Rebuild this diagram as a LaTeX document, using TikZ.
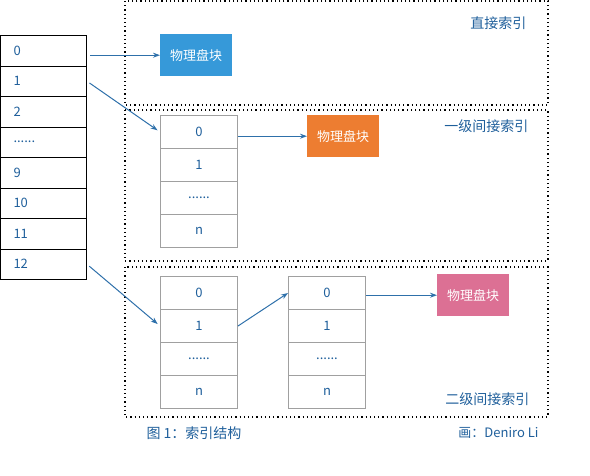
\documentclass[tikz,border=0pt]{standalone}
\usepackage{fontspec}
\setmainfont{Noto Sans CJK SC}
\usetikzlibrary{arrows.meta,positioning}
\definecolor{idxblue}{RGB}{31,95,155}
\definecolor{lnblue}{RGB}{46,112,170}
\definecolor{blkblue}{RGB}{54,153,217}
\definecolor{blkorange}{RGB}{237,125,49}
\definecolor{blkpink}{RGB}{220,112,148}
\definecolor{cellgray}{RGB}{160,160,160}
\newcommand{\fsz}[1]{\fontsize{#1}{#1}\selectfont}
\newcommand{\sixdots}{......}

\begin{document}
\begin{tikzpicture}[x=1pt, y=-1pt, >={Stealth[length=7pt,width=5pt]},
  lcell/.style={draw, line width=1pt, minimum height=30.5pt, text width=60pt, inner xsep=13pt,
    inner ysep=0pt, align=left, anchor=north west, text=idxblue, font=\fsz{13}},
  gcell/.style={draw=cellgray, line width=1pt, minimum width=77pt, minimum height=33pt,
    inner sep=0pt, anchor=north west, text=idxblue, font=\fsz{13}},
  blk/.style={minimum width=72pt, minimum height=42pt, inner sep=0pt, anchor=north west,
    text=white, font=\fsz{13}},
  frame/.style={dash pattern=on 1.2pt off 3pt, line width=1.2pt},
  link/.style={->, draw=lnblue, line width=1pt},
  tag/.style={anchor=east, text=idxblue, font=\fsz{14}}]
  \useasboundingbox (0,0) rectangle (590,475);
  % index table (inode)
  \foreach \t [count=\i] in {0,1,2,\sixdots,9,10,11,12}
    \node[lcell] (l\i) at (0,{35+(\i-1)*30.5}) {\t};
  % frames
  \draw[frame] (125,1) rectangle (548,105);
  \draw[frame] (125,110) rectangle (548,261);
  \draw[frame] (125,267) rectangle (548,417);
  % direct index
  \node[blk, fill=blkblue] (blkA) at (160,34) {物理盘块};
  \node[tag] (lbA) at (530,23) {直接索引};
  \draw[link, shorten <=3pt] (blkA.west -| l1.east) -- (blkA.west);
  % single indirect
  \foreach \t [count=\i] in {0,1,\sixdots,n}
    \node[gcell] (a\i) at (160,{115+(\i-1)*33}) {\t};
  \node[blk, fill=blkorange] (blkB) at (307,115) {物理盘块};
  \node[tag] (lbB) at (532,126) {一级间接索引};
  \draw[link, shorten <=3pt, shorten >=3pt] (l2.east) -- (a1.west);
  \draw[link] (blkB.west -| a1.east) -- (blkB.west);
  % double indirect
  \foreach \t [count=\i] in {0,1,\sixdots,n} {
    \node[gcell] (b\i) at (160,{276+(\i-1)*33}) {\t};
    \node[gcell] (c\i) at (288,{276+(\i-1)*33}) {\t};
  }
  \node[blk, fill=blkpink] (blkC) at (437,274) {物理盘块};
  \node[tag] (lbC) at (533,399) {二级间接索引};
  \draw[link, shorten <=3pt, shorten >=3pt] (l8.east) -- (b2.west);
  \draw[link] (b2.east) -- (c1.west);
  \draw[link] (blkC.west -| c1.east) -- (blkC.west);
  % captions
  \node[anchor=west, text=idxblue, font=\fsz{14}] (cap) at (143,433) {图 1：索引结构};
  \node[anchor=east, text=idxblue, font=\fsz{13}] (who) at (542,433) {画：Deniro Li};
\end{tikzpicture}
\end{document}
